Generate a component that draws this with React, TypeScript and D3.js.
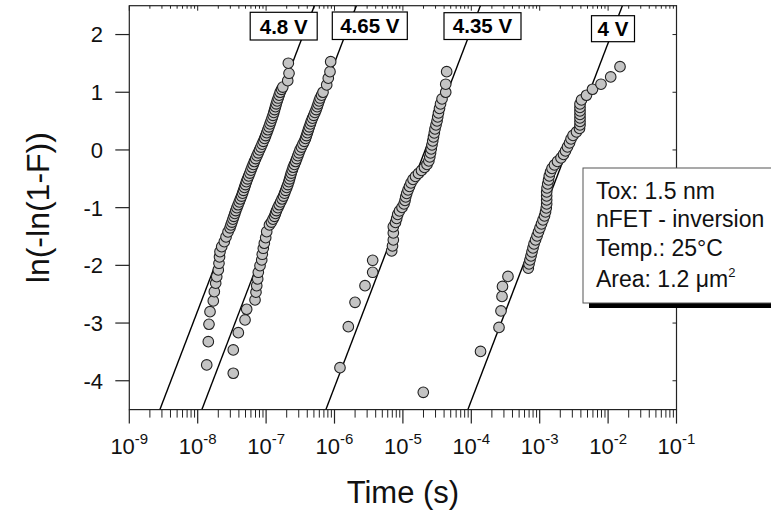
import React from "react";
import * as d3 from "d3";

const W = 771;
const H = 517;
const PLOT = { left: 129.3, right: 676.5, top: 5.7, bottom: 409.6 };

const xTickExponents = [-9, -8, -7, -6, -5, -4, -3, -2, -1];
const yTicks = [2, 1, 0, -1, -2, -3, -4];
const xDomain = [1e-9, 1e-1];
const yDomain = [-4.5, 2.5];

const seriesLabels = ["4.8 V", "4.65 V", "4.35 V", "4 V"];
// Weibull fit lines: log10(t) at ln(-ln(1-F)) = 0 and slope per decade
const fitLogT63 = [-7.101, -6.487, -4.674, -2.598];
const fitSlope = [3.1, 3.1, 3.1, 3.1];

const infoLines = ["Tox: 1.5 nm", "nFET - inversion", "Temp.: 25°C"];

// [log10(time / s), ln(-ln(1-F))]
const data48: [number, number][] = [
  [-7.868, -3.726], [-7.845, -3.322], [-7.835, -3.021], [-7.82, -2.802], [-7.772, -2.617], [-7.757, -2.456],
  [-7.737, -2.31], [-7.722, -2.196], [-7.699, -2.08], [-7.689, -1.964], [-7.681, -1.854], [-7.674, -1.763],
  [-7.649, -1.676], [-7.611, -1.589], [-7.586, -1.508], [-7.557, -1.421],
  [-7.528, -1.35], [-7.514, -1.3], [-7.499, -1.25], [-7.485, -1.2], [-7.471, -1.15], [-7.457, -1.1],
  [-7.443, -1.05], [-7.427, -1.0], [-7.41, -0.95], [-7.393, -0.9], [-7.376, -0.85], [-7.359, -0.8],
  [-7.344, -0.75], [-7.33, -0.7], [-7.316, -0.65], [-7.302, -0.6], [-7.288, -0.55], [-7.272, -0.5],
  [-7.255, -0.45], [-7.238, -0.4], [-7.222, -0.35], [-7.205, -0.3], [-7.188, -0.25], [-7.171, -0.2],
  [-7.153, -0.15], [-7.134, -0.1], [-7.115, -0.05], [-7.096, 0.0], [-7.077, 0.05], [-7.058, 0.1],
  [-7.04, 0.15], [-7.022, 0.2], [-7.006, 0.25], [-6.99, 0.3], [-6.974, 0.35], [-6.958, 0.4],
  [-6.943, 0.45], [-6.928, 0.5], [-6.913, 0.55], [-6.899, 0.6], [-6.887, 0.65], [-6.875, 0.7],
  [-6.863, 0.75], [-6.851, 0.8], [-6.838, 0.85], [-6.823, 0.9], [-6.809, 0.95], [-6.794, 1.0],
  [-6.774, 1.05], [-6.756, 1.09], [-6.684, 1.201], [-6.665, 1.329], [-6.675, 1.503],
];

const data465: [number, number][] = [
  [-7.48, -3.87], [-7.48, -3.466], [-7.406, -3.166], [-7.308, -2.946], [-7.284, -2.761], [-7.162, -2.6],
  [-7.148, -2.466], [-7.137, -2.352], [-7.123, -2.236], [-7.114, -2.12], [-7.089, -2.005], [-7.064, -1.906],
  [-7.056, -1.808], [-7.041, -1.704], [-7.026, -1.617], [-7.006, -1.52], [-6.991, -1.416],
  [-6.951, -1.3], [-6.922, -1.25], [-6.899, -1.2], [-6.878, -1.15], [-6.863, -1.1], [-6.848, -1.05],
  [-6.828, -1.0], [-6.808, -0.95], [-6.787, -0.9], [-6.766, -0.85], [-6.746, -0.8], [-6.73, -0.75],
  [-6.714, -0.7], [-6.698, -0.65], [-6.682, -0.6], [-6.668, -0.55], [-6.656, -0.5], [-6.644, -0.45],
  [-6.632, -0.4], [-6.617, -0.35], [-6.603, -0.3], [-6.586, -0.25], [-6.568, -0.2], [-6.552, -0.15],
  [-6.536, -0.1], [-6.52, -0.05], [-6.504, 0.0], [-6.483, 0.05], [-6.462, 0.1], [-6.441, 0.15],
  [-6.424, 0.2], [-6.41, 0.25], [-6.396, 0.3], [-6.382, 0.35], [-6.368, 0.4], [-6.353, 0.45],
  [-6.339, 0.5], [-6.322, 0.55], [-6.304, 0.6], [-6.286, 0.65], [-6.268, 0.7], [-6.253, 0.75],
  [-6.239, 0.8], [-6.225, 0.85], [-6.21, 0.9], [-6.189, 0.95], [-6.168, 1.0],
  [-6.114, 1.127], [-6.091, 1.243], [-6.066, 1.357], [-6.056, 1.53],
];

const data435: [number, number][] = [
  [-4.702, -4.201], [-5.92, -3.773], [-5.798, -3.062], [-5.7, -2.64], [-5.554, -2.352], [-5.442, -2.12],
  [-5.442, -1.912], [-5.164, -1.75], [-5.152, -1.664], [-5.14, -1.56], [-5.14, -1.438], [-5.14, -1.329],
  [-5.108, -1.256], [-5.091, -1.187], [-5.076, -1.118], [-5.05, -1.057], [-5.013, -0.997], [-4.984, -0.936],
  [-4.969, -0.875], [-4.959, -0.815], [-4.944, -0.754], [-4.925, -0.693], [-4.904, -0.633], [-4.882, -0.572],
  [-4.852, -0.511], [-4.816, -0.459], [-4.772, -0.407], [-4.728, -0.355], [-4.684, -0.303], [-4.648, -0.251],
  [-4.621, -0.191], [-4.607, -0.121], [-4.596, -0.052], [-4.586, 0.017], [-4.575, 0.087], [-4.564, 0.156],
  [-4.553, 0.225], [-4.541, 0.295], [-4.531, 0.364], [-4.516, 0.433], [-4.501, 0.503], [-4.491, 0.572],
  [-4.48, 0.641], [-4.465, 0.719], [-4.45, 0.797], [-4.428, 0.884], [-4.374, 1.0], [-4.374, 1.139],
  [-4.36, 1.357],
];

const data40: [number, number][] = [
  [-3.865, -3.492], [-3.595, -3.076], [-3.566, -2.79], [-3.551, -2.539], [-3.544, -2.366], [-3.464, -2.192],
  [-3.167, -2.05], [-3.156, -1.976], [-3.142, -1.906], [-3.127, -1.837], [-3.113, -1.768], [-3.098, -1.698],
  [-3.083, -1.629], [-3.061, -1.56], [-3.039, -1.49], [-3.018, -1.421], [-2.996, -1.352], [-2.974, -1.282],
  [-2.952, -1.213], [-2.93, -1.144], [-2.915, -1.075], [-2.904, -1.005], [-2.898, -0.936], [-2.898, -0.867],
  [-2.898, -0.797], [-2.898, -0.728], [-2.893, -0.659], [-2.883, -0.589], [-2.871, -0.52], [-2.86, -0.451],
  [-2.842, -0.381], [-2.82, -0.321], [-2.784, -0.26], [-2.74, -0.199], [-2.689, -0.139], [-2.652, -0.078],
  [-2.623, -0.017], [-2.594, 0.052], [-2.564, 0.121], [-2.542, 0.191], [-2.513, 0.251], [-2.462, 0.312],
  [-2.418, 0.373], [-2.411, 0.433], [-2.411, 0.494], [-2.411, 0.555], [-2.411, 0.615], [-2.411, 0.676],
  [-2.411, 0.737], [-2.411, 0.797], [-2.389, 0.867], [-2.316, 0.948], [-2.228, 1.052], [-2.104, 1.139],
  [-1.962, 1.265], [-1.826, 1.444],
];

const allSeries = [data48, data465, data435, data40];

// label box layout (pixels)
const labelBoxes = [
  { cx: 283.7, y0: 12.3, y1: 40, w: 67 },
  { cx: 369.8, y0: 12, y1: 39.5, w: 75 },
  { cx: 482.5, y0: 12.7, y1: 39.5, w: 77 },
  { cx: 613, y0: 15.7, y1: 41.7, w: 43 },
];

const FONT = "Arial, 'Liberation Sans', Helvetica, sans-serif";

export default function App() {
  const x = d3.scaleLog().domain(xDomain).range([PLOT.left, PLOT.right]);
  const y = d3.scaleLinear().domain(yDomain).range([PLOT.bottom, PLOT.top]);

  const minor: number[] = [];
  xTickExponents.slice(0, -1).forEach((e) => {
    for (let k = 2; k <= 9; k++) minor.push(k * Math.pow(10, e));
  });

  const axisColor = "#222";

  const lineGen = d3
    .line<[number, number]>()
    .x((d) => x(Math.pow(10, d[0])))
    .y((d) => y(d[1]));

  return (
    <svg width={W} height={H} style={{ position: "absolute", left: 0, top: 0, background: "#fff" }} fontFamily={FONT}>
      <defs>
        <clipPath id="plotClip">
          <rect x={PLOT.left} y={PLOT.top} width={PLOT.right - PLOT.left} height={PLOT.bottom - PLOT.top} />
        </clipPath>
      </defs>

      {/* frame */}
      <rect x={PLOT.left} y={PLOT.top} width={PLOT.right - PLOT.left} height={PLOT.bottom - PLOT.top} fill="none" stroke={axisColor} strokeWidth={1.2} />

      {/* y ticks */}
      {yTicks.map((t) => (
        <g key={"y" + t}>
          <line x1={PLOT.left - 14} x2={PLOT.left} y1={y(t)} y2={y(t)} stroke={axisColor} strokeWidth={1.2} />
          <line x1={PLOT.right - 4} x2={PLOT.right} y1={y(t)} y2={y(t)} stroke={axisColor} strokeWidth={1} />
          <text x={103} y={y(t)} dy="0.36em" textAnchor="end" fontSize={22} fill="#111">
            {t}
          </text>
        </g>
      ))}

      {/* x ticks */}
      {xTickExponents.map((e) => {
        const px = x(Math.pow(10, e));
        return (
          <g key={"x" + e}>
            <line x1={px} x2={px} y1={PLOT.bottom} y2={PLOT.bottom + 14} stroke={axisColor} strokeWidth={1.2} />
            <line x1={px} x2={px} y1={PLOT.top} y2={PLOT.top + 5} stroke={axisColor} strokeWidth={1} />
            <text x={px} y={454} textAnchor="middle" fontSize={22} fill="#111">
              <tspan>10</tspan>
              <tspan dy={-10} fontSize={15}>{e}</tspan>
            </text>
          </g>
        );
      })}
      {minor.map((v, i) => {
        const px = x(v);
        return (
          <g key={"m" + i}>
            <line x1={px} x2={px} y1={PLOT.bottom} y2={PLOT.bottom + 8} stroke={axisColor} strokeWidth={1} />
            <line x1={px} x2={px} y1={PLOT.top} y2={PLOT.top + 3} stroke={axisColor} strokeWidth={1} />
          </g>
        );
      })}

      {/* axis titles */}
      <text x={(PLOT.left + PLOT.right) / 2} y={503} textAnchor="middle" fontSize={31} fill="#111">
        Time (s)
      </text>
      <text transform={`translate(49, ${(PLOT.top + PLOT.bottom) / 2}) rotate(-90)`} textAnchor="middle" fontSize={32} fill="#111">
        ln(-ln(1-F))
      </text>

      {/* fit lines */}
      <g clipPath="url(#plotClip)">
        {fitLogT63.map((l0, i) => {
          const pts: [number, number][] = yDomain.map((v) => [l0 + v / fitSlope[i], v]);
          return <path key={"l" + i} d={lineGen(pts) || ""} fill="none" stroke="#000" strokeWidth={1.4} />;
        })}
      </g>

      {/* data points */}
      <g clipPath="url(#plotClip)">
        {allSeries.map((s, si) =>
          s
            .slice()
            .sort((a, b) => a[1] - b[1])
            .map((d, i) => (
              <circle key={si + "-" + i} cx={x(Math.pow(10, d[0]))} cy={y(d[1])} r={5.3} fill="#c4c4c4" stroke="#222" strokeWidth={1.1} />
            ))
        )}
      </g>

      {/* series labels */}
      {seriesLabels.map((lab, i) => {
        const b = labelBoxes[i];
        return (
          <g key={"lab" + i}>
            <rect x={b.cx - b.w / 2} y={b.y0} width={b.w} height={b.y1 - b.y0} fill="#fff" stroke="#000" strokeWidth={1.2} />
            <text x={b.cx} y={(b.y0 + b.y1) / 2} dy="0.36em" textAnchor="middle" fontSize={20.5} fontWeight="bold" fill="#000">
              {lab}
            </text>
          </g>
        );
      })}

      {/* info box */}
      <rect x={589} y={173} width={200} height={135} fill="#000" />
      <rect x={583} y={168} width={200} height={135} fill="#fff" stroke="#555" strokeWidth={1} />
      {infoLines.map((t, i) => (
        <text key={"info" + i} x={596} y={[199, 227, 256][i]} fontSize={23} fill="#111">
          {t}
        </text>
      ))}
      <text x={596} y={287} fontSize={23} fill="#111">
        Area: 1.2 μm
        <tspan dy={-10} fontSize={13}>2</tspan>
      </text>
    </svg>
  );
}
